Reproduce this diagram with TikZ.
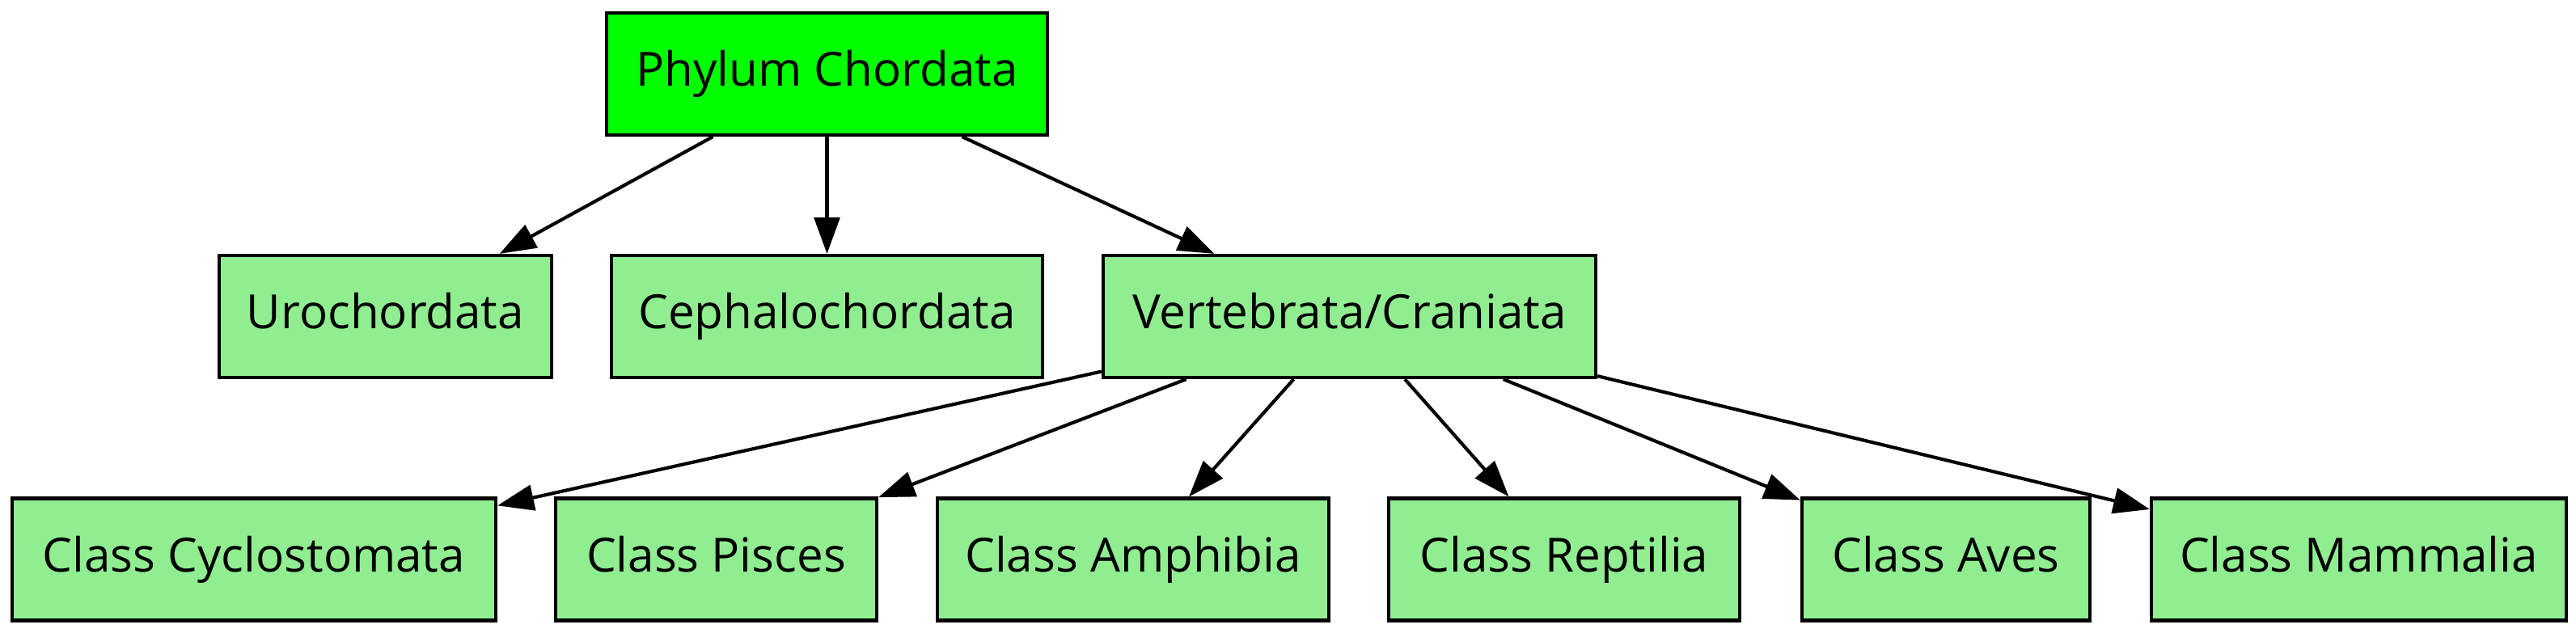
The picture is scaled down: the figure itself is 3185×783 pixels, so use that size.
\documentclass[tikz,border=0pt]{standalone}
\usepackage{fontspec}
\setmainfont{Open Sans}
\usetikzlibrary{arrows.meta}
\definecolor{topgreen}{HTML}{00FF00}
\definecolor{lgreen}{HTML}{90EE90}
\begin{document}
\begin{tikzpicture}[x=0.24pt,y=-0.24pt,
  box/.style={draw=black, line width=1pt, rectangle, fill=lgreen, inner sep=0pt,
    minimum height=36.24pt, text height=10pt, text depth=2.6pt,
    font=\fontsize{14}{16}\selectfont},
  arr/.style={line width=1pt, -{Triangle[length=10.8pt,width=7.6pt]}}]
\useasboundingbox (0,0) rectangle (3185,783);
\node[box, fill=topgreen, minimum width=545*0.24pt] (phylum) at (1022.5,91.5) {Phylum Chordata};
\node[box, minimum width=411*0.24pt] (uro) at (476.5,391.5) {Urochordata};
\node[box, minimum width=533*0.24pt] (ceph) at (1022.5,391.5) {Cephalochordata};
\node[box, minimum width=609*0.24pt] (vert) at (1668.5,391.5) {Vertebrata/Craniata};
\node[box, minimum width=598*0.24pt] (cyclo) at (314,692) {Class Cyclostomata};
\node[box, minimum width=397*0.24pt] (pisces) at (885.5,692) {Class Pisces};
\node[box, minimum width=484*0.24pt] (amph) at (1401,692) {Class Amphibia};
\node[box, minimum width=434*0.24pt] (rept) at (1934,692) {Class Reptilia};
\node[box, minimum width=356*0.24pt] (aves) at (2406,692) {Class Aves};
\node[box, minimum width=513*0.24pt] (mamm) at (2916.5,692) {Class Mammalia};
\draw[arr] (phylum) -- (uro);
\draw[arr] (phylum) -- (ceph);
\draw[arr] (phylum) -- (vert);
\draw[arr] (vert) -- (cyclo);
\draw[arr] (vert) -- (pisces);
\draw[arr] (vert) -- (amph);
\draw[arr] (vert) -- (rept);
\draw[arr] (vert) -- (aves);
\draw[arr] (vert) -- (mamm);
\end{tikzpicture}
\end{document}
